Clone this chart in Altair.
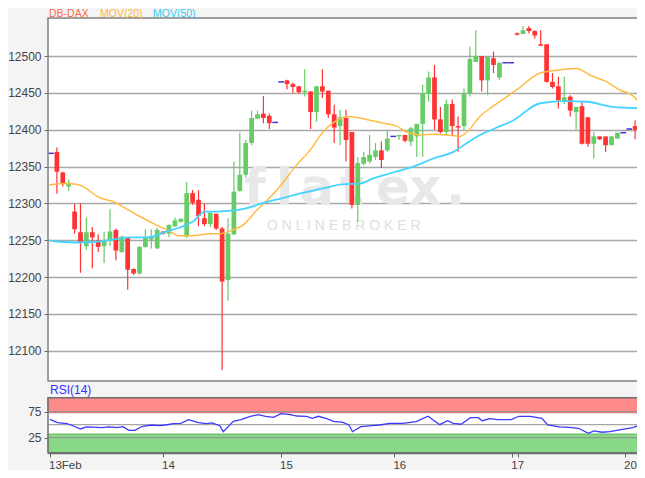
import altair as alt
import pandas as pd

# ---------------- data ----------------
opens = [12368, 12370, 12342, 12323, 12289, 12261, 12242, 12261, 12250, 12242,
         12250, 12264, 12234, 12254, 12211, 12205, 12241, 12251, 12239, 12262,
         12259, 12269, 12275, 12255, 12314, 12305, 12280, 12272, 12286, 12266,
         12196, 12258, 12317, 12339, 12382, 12415, 12422, 12419, 12410, 12465,
         12467, 12462, 12459, 12451, 12452, 12424, 12459, 12453, 12421, 12405,
         12416, 12397, 12298, 12354, 12357, 12363, 12372, 12372, 12391, 12391,
         12393, 12384, 12391, 12408, 12449, 12471, 12414, 12397, 12435, 12405,
         12405, 12449, 12492, 12500, 12467, 12497, 12471, 12491, 12491, 12531,
         12530, 12538, 12534, 12516, 12516, 12465, 12459, 12439, 12445, 12424,
         12432, 12417, 12381, 12391, 12391, 12379, 12388, 12396, 12401, 12405,
         12400]
highs = [12368, 12376, 12343, 12333, 12299, 12300, 12281, 12268, 12258, 12262,
         12292, 12266, 12256, 12254, 12212, 12242, 12265, 12265, 12267, 12262,
         12271, 12281, 12280, 12329, 12318, 12318, 12300, 12289, 12286, 12268,
         12280, 12357, 12396, 12386, 12426, 12426, 12446, 12422, 12410, 12465,
         12468, 12464, 12459, 12482, 12452, 12459, 12482, 12453, 12434, 12427,
         12427, 12397, 12363, 12370, 12393, 12382, 12384, 12400, 12391, 12393,
         12393, 12404, 12408, 12461, 12479, 12488, 12431, 12441, 12441, 12418,
         12456, 12513, 12535, 12500, 12500, 12506, 12491, 12491, 12491, 12532,
         12541, 12541, 12535, 12535, 12516, 12477, 12472, 12472, 12447, 12431,
         12438, 12417, 12397, 12391, 12391, 12391, 12396, 12396, 12401, 12413,
         12438]
lows = [12368, 12313, 12323, 12317, 12259, 12206, 12237, 12212, 12234, 12219,
        12242, 12223, 12233, 12183, 12203, 12203, 12240, 12239, 12238, 12258,
        12254, 12268, 12274, 12253, 12298, 12269, 12269, 12268, 12264, 12074,
        12168, 12257, 12316, 12336, 12379, 12415, 12409, 12401, 12410, 12465,
        12455, 12450, 12449, 12445, 12401, 12411, 12443, 12416, 12382, 12379,
        12357, 12293, 12275, 12352, 12354, 12359, 12348, 12370, 12391, 12386,
        12383, 12378, 12363, 12363, 12438, 12400, 12395, 12393, 12393, 12370,
        12400, 12445, 12492, 12452, 12447, 12477, 12468, 12491, 12491, 12528,
        12530, 12531, 12524, 12514, 12464, 12456, 12429, 12435, 12418, 12400,
        12380, 12377, 12361, 12386, 12370, 12379, 12388, 12396, 12401, 12387,
        12400]
closes = [12368, 12343, 12327, 12328, 12265, 12247, 12261, 12254, 12241, 12250,
          12262, 12236, 12255, 12210, 12205, 12241, 12254, 12255, 12264, 12259,
          12271, 12277, 12279, 12314, 12301, 12283, 12272, 12287, 12266, 12194,
          12259, 12316, 12339, 12382, 12416, 12421, 12416, 12409, 12410, 12465,
          12462, 12458, 12451, 12453, 12424, 12459, 12452, 12421, 12403, 12417,
          12386, 12298, 12355, 12363, 12366, 12372, 12359, 12388, 12391, 12393,
          12385, 12402, 12408, 12449, 12471, 12414, 12397, 12435, 12405, 12403,
          12449, 12496, 12500, 12467, 12499, 12488, 12491, 12491, 12491, 12529,
          12535, 12534, 12528, 12514, 12465, 12458, 12440, 12444, 12426, 12431,
          12381, 12381, 12391, 12387, 12379, 12391, 12396, 12396, 12401, 12400,
          12418]

ma20_pos = [-0.3, 2.5, 4.8, 8.2, 11, 12.7, 14.9, 17.8, 20, 21.7, 23.4, 24.9, 26.6,
            28.6, 30.8, 32.6, 34.9, 36.6, 38.8, 41.6, 43.9, 46.1, 48.3, 50.2, 53.5,
            56.3, 58.6, 60.3, 62.5, 64.8, 67.1, 69.3, 70.5, 72.7, 75.3, 78.9, 82.9,
            85.1, 89.1, 91.4, 94.2, 96.4, 98.8, 100.3]
ma20_val = [12325, 12327, 12325, 12308, 12301, 12293, 12283, 12271, 12263, 12256,
            12256, 12257, 12259, 12259, 12264, 12271, 12291, 12304, 12323, 12352,
            12372, 12397, 12412, 12418, 12414, 12409, 12405, 12397, 12393, 12394,
            12393, 12391, 12397, 12418, 12434, 12454, 12477, 12480, 12483, 12474,
            12465, 12454, 12445, 12430]

ma50_pos = [-0.3, 1.4, 4.8, 7.6, 10.5, 13.3, 16.1, 17.8, 19.5, 21.7, 24, 26.1, 27.8,
            30.1, 32.9, 35.7, 39.1, 42.5, 45.9, 49.3, 52.4, 54.6, 58, 61.4, 64.8,
            68.2, 70.5, 72.7, 75.3, 78.4, 82.9, 87.4, 90.8, 95.3, 100.3]
ma50_val = [12250, 12248, 12247, 12248, 12251, 12254, 12254, 12256, 12262, 12267,
            12275, 12289, 12289, 12290, 12293, 12300, 12307, 12314, 12320, 12326,
            12327, 12334, 12342, 12350, 12361, 12370, 12382, 12393, 12402, 12413,
            12436, 12439, 12438, 12431, 12429]

rsi_pos = [-0.2, 1.1, 2.7, 3.4, 5, 6, 8.6, 9.9, 11.2, 12.2, 13.2, 14.2, 15.5, 17.1,
           18.4, 19.4, 20.7, 22, 23.3, 25, 26.3, 27.3, 28.6, 29.2, 30.9, 32.2, 33.8,
           35.1, 36.4, 37.7, 39, 40.3, 41.7, 43.3, 44.3, 45.3, 46.6, 47.9, 49.5, 50.5,
           51.1, 52.5, 54.4, 55.7, 57.4, 59.6, 61.9, 63.9, 65.9, 67.2, 68.2, 69.5,
           71.1, 72.4, 73.1, 74.4, 75.7, 78, 79.3, 81.2, 83.2, 84.2, 86.2, 87.8, 89.4,
           91.1, 92, 93.4, 94.7, 96.6, 98.6, 99.9]
rsi_val = [60.4, 53.8, 51.9, 49.4, 41.7, 45.6, 44.2, 45.6, 44.2, 46.2, 39.2, 39.2,
           46.9, 49.4, 48.1, 49.4, 51.9, 52.7, 59.6, 53.8, 51.9, 53.3, 48.1, 36.5,
           56.5, 59.6, 66.2, 69.2, 66.2, 64.2, 71.2, 70.0, 66.7, 66.2, 62.3, 66.2,
           62.3, 56.5, 54.6, 49.4, 36.5, 46.2, 48.1, 49.4, 52.7, 52.7, 55.8, 66.2,
           50.0, 57.7, 52.7, 50.8, 63.5, 63.5, 57.7, 61.5, 59.6, 59.6, 66.2, 66.2,
           62.3, 49.4, 45.6, 45.0, 43.1, 33.5, 37.9, 35.4, 36.5, 40.4, 44.2, 50.0]

price_ticks = [12100, 12150, 12200, 12250, 12300, 12350, 12400, 12450, 12500]
rsi_ticks = [25, 75]
rsi_lines = [25, 50, 75]
rsi_bands = [{"lo": 73, "hi": 102, "band": "over"}, {"lo": -4, "hi": 32, "band": "under"}]
day_pos = [-0.17, 19, 39, 58.2, 78.2, 79.1, 97.3]
day_labels = ["13Feb", "14", "15", "16", "17", "", "20"]
legend_names = ["DB-DAX", "MOV(20)", "MOV(50)"]
legend_colors = ["#ff6a4d", "#ffb833", "#33ccf0"]

# ---------------- tables ----------------
n = len(opens)
rows = []
for i in range(n):
    kind = "flat" if opens[i] == closes[i] else ("up" if closes[i] > opens[i] else "down")
    rows.append(dict(i=i, x0=i - 0.4, x1=i + 0.4, d0=i - 0.48, d1=i + 0.48,
                     open=opens[i], high=highs[i], low=lows[i], close=closes[i], kind=kind))
df = pd.DataFrame(rows)
df_body = df[df.kind != "flat"]
df_flat = df[df.kind == "flat"]
df_ma20 = pd.DataFrame({"i": ma20_pos, "v": ma20_val})
df_ma50 = pd.DataFrame({"i": ma50_pos, "v": ma50_val})
df_rsi = pd.DataFrame({"i": rsi_pos, "v": rsi_val})
df_bands = pd.DataFrame(rsi_bands)
df_rsil = pd.DataFrame({"v": rsi_lines})
one = pd.DataFrame({"a": [0]})

FONT = "Liberation Sans"
W, H = 595, 435
MAIN_H = 363
RSI_TOP, RSI_BOT = 379.7, 434.7

label_expr = " : ".join(
    f"datum.value == {p} ? '{l}'" for p, l in zip(day_pos, day_labels)) + " : ''"

x_axis = alt.Axis(values=day_pos, labelExpr=label_expr, title=None, tickSize=4,
                  tickColor="#666", domainColor="#666", domainWidth=1.5, grid=False,
                  labelAlign="left", labelBaseline="top", labelFontSize=11.5, labelFont=FONT,
                  labelColor="#444", labelPadding=2, labelOffset=-1.5, labelOverlap=False,
                  labelBound=False, labelFlush=False)
x_scale = alt.Scale(domain=[-0.508, 100.34], nice=False, zero=False)

main_axis = alt.Axis(values=price_ticks, format="d", title=None, grid=True,
                     gridColor="#a8a8a8", gridWidth=1.5, tickSize=4, tickColor="#666",
                     domain=False, labelFontSize=12, labelFont=FONT, labelColor="#444",
                     labelPadding=3, orient="left")
main_scale = alt.Scale(domain=[12059, 12551.7], range=[MAIN_H, 0], nice=False, zero=False)

rsi_axis = alt.Axis(values=rsi_ticks, title=None, grid=False, tickSize=4, tickColor="#666",
                    domain=False, labelFontSize=12, labelFont=FONT, labelColor="#444",
                    labelPadding=3, orient="left")
rsi_scale = alt.Scale(domain=[-4, 102], range=[RSI_BOT, RSI_TOP], nice=False, zero=False)


def X(f):
    return alt.X(f, type="quantitative", scale=x_scale, axis=x_axis)


def YM(f):
    return alt.Y(f, type="quantitative", scale=main_scale, axis=main_axis)


def YR(f):
    return alt.Y(f, type="quantitative", scale=rsi_scale, axis=rsi_axis)


candle_color = alt.Color("kind:N", scale=alt.Scale(domain=["up", "down"],
                                                   range=["#66cc66", "#ff3333"]), legend=None)

# watermark (decoration)
wm_letters = ["f", "l", "a", "t", "e", "x", "."]
wm_px = [196, 228, 252, 292, 328, 361, 398]
watermark = alt.layer(*[
    alt.Chart(one).mark_text(text=t, font="DejaVu Sans", fontSize=50, fontWeight="bold",
                             color="#e8e8e8", align="left", baseline="alphabetic").encode(
        x=alt.value(px), y=alt.value(186))
    for t, px in zip(wm_letters, wm_px)
])
wm2 = alt.Chart(one).mark_text(text="O N L I N E    B R O K E R", font=FONT, fontSize=14,
                               color="#e0e0e0", align="left", baseline="middle").encode(
    x=alt.value(219), y=alt.value(208))

gap = alt.Chart(one).mark_rect(color="#f4f4f4").encode(
    x=alt.value(-2), x2=alt.value(W + 2), y=alt.value(MAIN_H + 0.5), y2=alt.value(RSI_TOP - 0.5))

wicks = alt.Chart(df).mark_rule(strokeWidth=1.2).encode(
    x=X("i"), y=YM("high"), y2="low", color=candle_color)
bodies = alt.Chart(df_body).mark_rect().encode(
    x=X("x0"), x2="x1", y=YM("open"), y2="close", color=candle_color)
flats = alt.Chart(df_flat).mark_rule(strokeWidth=1.5, color="#4433dd").encode(
    x=X("d0"), x2="d1", y=YM("open"))
ma20 = alt.Chart(df_ma20).mark_line(color="#ffbb44", strokeWidth=1.5, interpolate="monotone").encode(
    x=X("i"), y=YM("v"))
ma50 = alt.Chart(df_ma50).mark_line(color="#44d4ff", strokeWidth=1.8, interpolate="monotone").encode(
    x=X("i"), y=YM("v"))
main_frame = alt.Chart(one).mark_rect(fill=None, stroke="#808080", strokeWidth=1.5).encode(
    x=alt.value(0), x2=alt.value(W), y=alt.value(0), y2=alt.value(MAIN_H))

title_layer = alt.layer(*[
    alt.Chart(one).mark_text(text=t, color=c, font=FONT, fontSize=10.5, align="left",
                             baseline="alphabetic").encode(x=alt.value(xp), y=alt.value(-1.2))
    for t, c, xp in zip(legend_names, legend_colors, [1, 52, 105])
])

main = alt.layer(watermark, wm2, gap, wicks, bodies, flats, ma20, ma50, main_frame, title_layer)

bands = alt.Chart(df_bands).mark_rect(strokeWidth=1).encode(
    x=alt.value(0), x2=alt.value(W), y=YR("lo"), y2="hi",
    fill=alt.Fill("band:N", scale=alt.Scale(domain=["over", "under"], range=["#ff8a8a", "#88d888"]), legend=None),
    stroke=alt.Stroke("band:N", scale=alt.Scale(domain=["over", "under"], range=["#e07070", "#66bb66"]), legend=None))
rsi_grid = alt.Chart(df_rsil).mark_rule(color="#909090", strokeWidth=1.3, opacity=0.8).encode(
    x=alt.value(0), x2=alt.value(W), y=YR("v"))
rsi_line = alt.Chart(df_rsi).mark_line(color="#3a3aff", strokeWidth=1.3).encode(x=X("i"), y=YR("v"))
rsi_frame = alt.Chart(one).mark_rect(fill=None, stroke="#707070", strokeWidth=1.5).encode(
    x=alt.value(0), x2=alt.value(W), y=alt.value(RSI_TOP), y2=alt.value(RSI_BOT))
rsi_title = alt.Chart(one).mark_text(text="RSI(14)", color="#3333ff", font=FONT, fontSize=12,
                                     align="left", baseline="alphabetic").encode(
    x=alt.value(2), y=alt.value(RSI_TOP - 3.5))

rsi = alt.layer(bands, rsi_grid, rsi_line, rsi_frame, rsi_title)

chart = alt.layer(main, rsi).resolve_scale(y="independent").properties(
    width=W, height=H,
    autosize=alt.AutoSizeParams(type="none"),
    padding={"left": 40, "top": 10, "right": -6, "bottom": 17},
    background="#f4f4f4",
).configure_view(fill="white", strokeWidth=0)

chart.save("out.html", embed_options={"renderer": "svg", "actions": False})
